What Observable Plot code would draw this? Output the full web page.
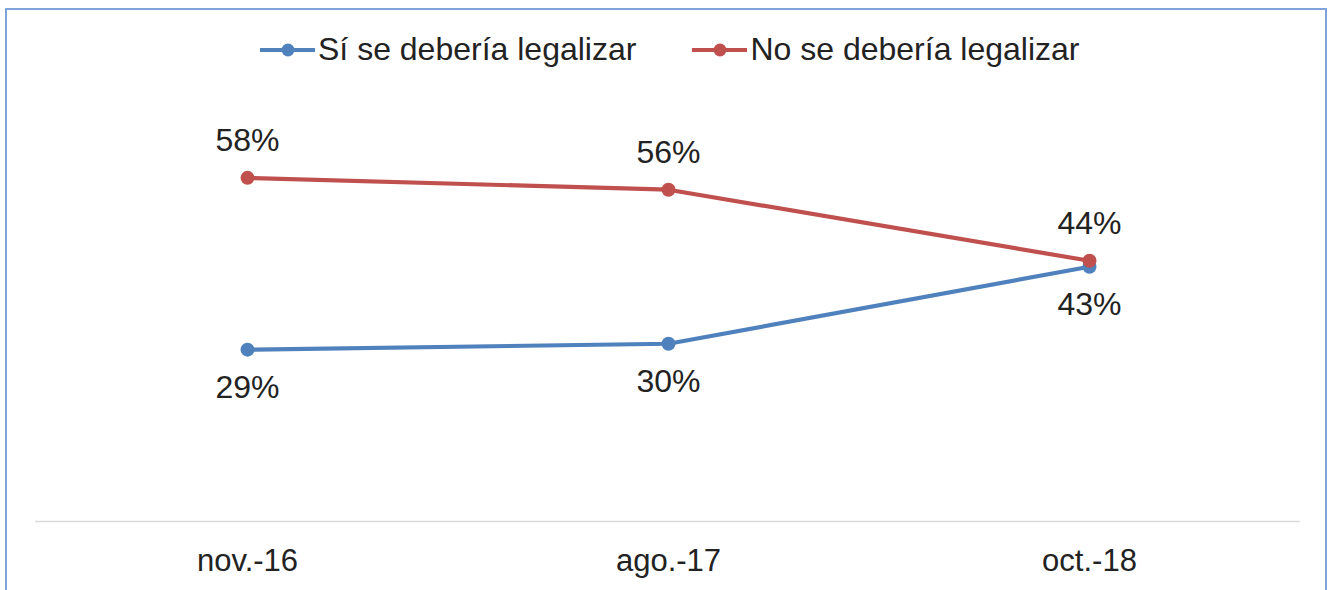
<!DOCTYPE html>
<html>
<head>
<meta charset="utf-8">
<script src="https://cdn.jsdelivr.net/npm/d3@7"></script>
<script src="https://cdn.jsdelivr.net/npm/@observablehq/plot@0.6"></script>
<style>
  html, body { margin: 0; padding: 0; background: #fff; }
  #wrap { position: relative; width: 1336px; height: 590px; overflow: hidden; font-family: "Liberation Sans", Arial, sans-serif; color: #222; }
  #frame { position: absolute; left: 5px; top: 8px; width: 1322px; height: 620px; border: 2.5px solid #7ea4d9; box-sizing: border-box; }
  #legend { position: absolute; left: 260px; top: 31px; display: flex; align-items: center; font-size: 32px; white-space: nowrap; }
  #legend .item { display: flex; align-items: center; }
  #legend svg { display: block; }
  #chart { position: absolute; left: 0; top: 0; }
</style>
</head>
<body>
<div id="wrap">
  <div id="frame"></div>
  <div id="chart"></div>
  <div id="legend"></div>
</div>
<script>
const fechas = ["nov.-16", "ago.-17", "oct.-18"];
const serieSi = "Sí se debería legalizar";
const serieNo = "No se debería legalizar";
const valoresSi = [29, 30, 43];
const valoresNo = [58, 56, 44];
const series = [serieSi, serieNo];
const colores = ["#4f81bd", "#c0504d"];

const dataSi = fechas.map((f, i) => ({fecha: f, serie: serieSi, valor: valoresSi[i]}));
const dataNo = fechas.map((f, i) => ({fecha: f, serie: serieNo, valor: valoresNo[i]}));
const data = [...dataSi, ...dataNo];

const chart = Plot.plot({
  width: 1336,
  height: 590,
  marginLeft: 35,
  marginRight: 36,
  marginTop: 47,
  marginBottom: 69,
  style: {fontFamily: "'Liberation Sans', Arial, sans-serif", background: "transparent", color: "#222", overflow: "visible"},
  x: {type: "point", domain: fechas, padding: 0.5, label: null, tickSize: 0, tickPadding: 27, fontSize: 31},
  y: {domain: [0, 80], axis: null},
  color: {domain: series, range: colores},
  marks: [
    Plot.ruleY([0], {stroke: "#d9d9d9", strokeWidth: 1.5}),
    Plot.line(data, {x: "fecha", y: "valor", z: "serie", stroke: "serie", strokeWidth: 4.2}),
    Plot.dot(data, {x: "fecha", y: "valor", fill: "serie", r: 7}),
    Plot.text(dataNo, {x: "fecha", y: "valor", text: d => d.valor + "%", dy: -37, fontSize: 32, fill: "#222"}),
    Plot.text(dataSi, {x: "fecha", y: "valor", text: d => d.valor + "%", dy: 38, fontSize: 32, fill: "#222"})
  ]
});
chart.querySelectorAll("g[aria-label='x-axis tick label']").forEach(el => el.setAttribute("font-size", 31));
document.getElementById("chart").appendChild(chart);

// legend
const legend = document.getElementById("legend");
series.forEach((s, i) => {
  const item = document.createElement("div");
  item.className = "item";
  if (i > 0) item.style.marginLeft = "56px";
  const ns = "http://www.w3.org/2000/svg";
  const sw = document.createElementNS(ns, "svg");
  sw.setAttribute("width", 58);
  sw.setAttribute("height", 20);
  const ln = document.createElementNS(ns, "line");
  ln.setAttribute("x1", 0); ln.setAttribute("x2", 55);
  ln.setAttribute("y1", 10); ln.setAttribute("y2", 10);
  ln.setAttribute("stroke", colores[i]); ln.setAttribute("stroke-width", 4.2);
  const c = document.createElementNS(ns, "circle");
  c.setAttribute("cx", 28); c.setAttribute("cy", 10); c.setAttribute("r", 6.5);
  c.setAttribute("fill", colores[i]);
  sw.appendChild(ln); sw.appendChild(c);
  const t = document.createElement("span");
  t.textContent = s;
  item.appendChild(sw); item.appendChild(t);
  legend.appendChild(item);
});
</script>
</body>
</html>
